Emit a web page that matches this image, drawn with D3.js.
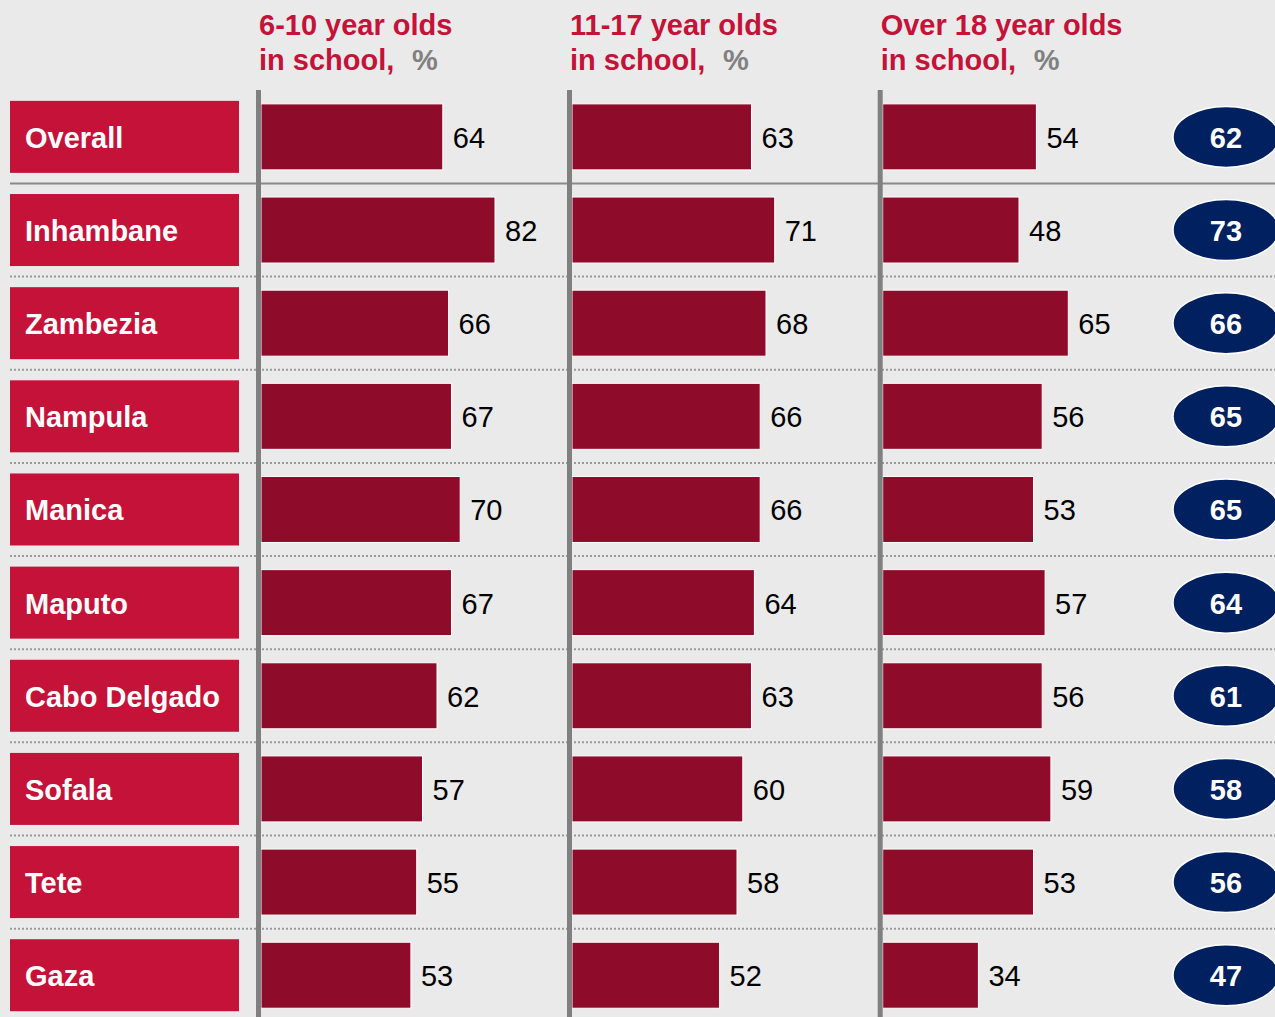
<!DOCTYPE html>
<html><head><meta charset="utf-8">
<script src="https://cdn.jsdelivr.net/npm/d3@7"></script>
<style>html,body{margin:0;padding:0;background:#EAEAEA;}svg{display:block;}</style>
</head><body>
<svg id="chart" width="1275" height="1017"></svg>
<script>
const regions = ["Overall","Inhambane","Zambezia","Nampula","Manica","Maputo","Cabo Delgado","Sofala","Tete","Gaza"];
const age6to10 = [64,82,66,67,70,67,62,57,55,53];
const age11to17 = [63,71,68,66,66,64,63,60,58,52];
const over18 = [54,48,65,56,53,57,56,59,53,34];
const total = [62,73,66,65,65,64,61,58,56,47];
const headerLine1 = ["6-10 year olds","11-17 year olds","Over 18 year olds"];
const headerLine2 = "in school,";
const unit = "%";

const series = [age6to10, age11to17, over18];
const W = 1275, H = 1017;
const svg = d3.select("#chart");
const FONT = "'Liberation Sans', Arial, sans-serif";
const FS = 29;
const RED = "#C41239", BAR = "#8E0C2A", NAVY = "#002060", GREY = "#808080";

svg.append("rect").attr("width",W).attr("height",H).attr("fill","#EAEAEA");

const y = d3.scaleBand().domain(regions).range([90.3, 90.3 + 93.15*regions.length]).paddingInner(0).paddingOuter(0);
const yc = r => y(r) + y.bandwidth()/2;
const axisX = [258.5, 569.5, 880.2];
const origins = [257.2, 568.8, 879.8];
const xs = origins.map(o => d3.scaleLinear().domain([0,100]).range([o, o+290]));

// separators
regions.forEach((r,i) => {
  if (i === 0) return;
  const yy = y(r);
  svg.append("line").attr("x1",10).attr("x2",W).attr("y1",yy).attr("y2",yy)
    .attr("stroke", i===1 ? "#8a8a8a" : "#9a9a9a")
    .attr("stroke-width", 2)
    .attr("stroke-dasharray", i===1 ? null : "2,2");
});

// label boxes
const lab = svg.append("g");
lab.selectAll("rect").data(regions).join("rect")
  .attr("x",10).attr("width",229)
  .attr("y", d => yc(d)-36).attr("height",72)
  .attr("fill",RED);
lab.selectAll("text").data(regions).join("text")
  .attr("x",25).attr("y", d => yc(d)+1)
  .attr("dominant-baseline","central")
  .attr("font-family",FONT).attr("font-weight","bold").attr("font-size",FS)
  .attr("fill","#fff").text(d => d);

// columns
series.forEach((vals, c) => {
  const x = xs[c];
  const ax = axisX[c];
  const g = svg.append("g");
  g.selectAll("rect.bar").data(regions).join("rect").attr("class","bar")
    .attr("x", ax+2.5)
    .attr("width", (d,i) => x(vals[i]) - ax - 2.5)
    .attr("y", d => yc(d)-33).attr("height",66)
    .attr("fill",BAR).attr("stroke","#fff").attr("stroke-width",1);
  g.selectAll("text.val").data(regions).join("text").attr("class","val")
    .attr("x", (d,i) => x(vals[i]) + 10)
    .attr("y", d => yc(d)+1)
    .attr("dominant-baseline","central")
    .attr("font-family",FONT).attr("font-size",FS).attr("fill","#000")
    .text((d,i) => vals[i]);
  g.append("line").attr("x1",ax).attr("x2",ax)
    .attr("y1",90).attr("y2",H).attr("stroke",GREY).attr("stroke-width",5);
  // header
  const hx = ax+0.5;
  g.append("text").attr("x",hx).attr("y",35)
    .attr("font-family",FONT).attr("font-weight","bold").attr("font-size",FS)
    .attr("fill",RED).text(headerLine1[c]);
  g.append("text").attr("x",hx).attr("y",70)
    .attr("font-family",FONT).attr("font-weight","bold").attr("font-size",FS)
    .attr("fill",RED).text(headerLine2);
  g.append("text").attr("x",hx+153).attr("y",70)
    .attr("font-family",FONT).attr("font-weight","bold").attr("font-size",FS)
    .attr("fill",GREY).text(unit);
});

// total ellipses
const eg = svg.append("g");
eg.selectAll("ellipse").data(regions).join("ellipse")
  .attr("cx",1226).attr("cy", d => yc(d)).attr("rx",53).attr("ry",30.5)
  .attr("fill",NAVY).attr("stroke","#fff").attr("stroke-width",1.5);
eg.selectAll("text").data(regions).join("text")
  .attr("x",1226).attr("y", d => yc(d)+1)
  .attr("text-anchor","middle").attr("dominant-baseline","central")
  .attr("font-family",FONT).attr("font-weight","bold").attr("font-size",FS)
  .attr("fill","#fff").text((d,i) => total[i]);
</script>
</body></html>
